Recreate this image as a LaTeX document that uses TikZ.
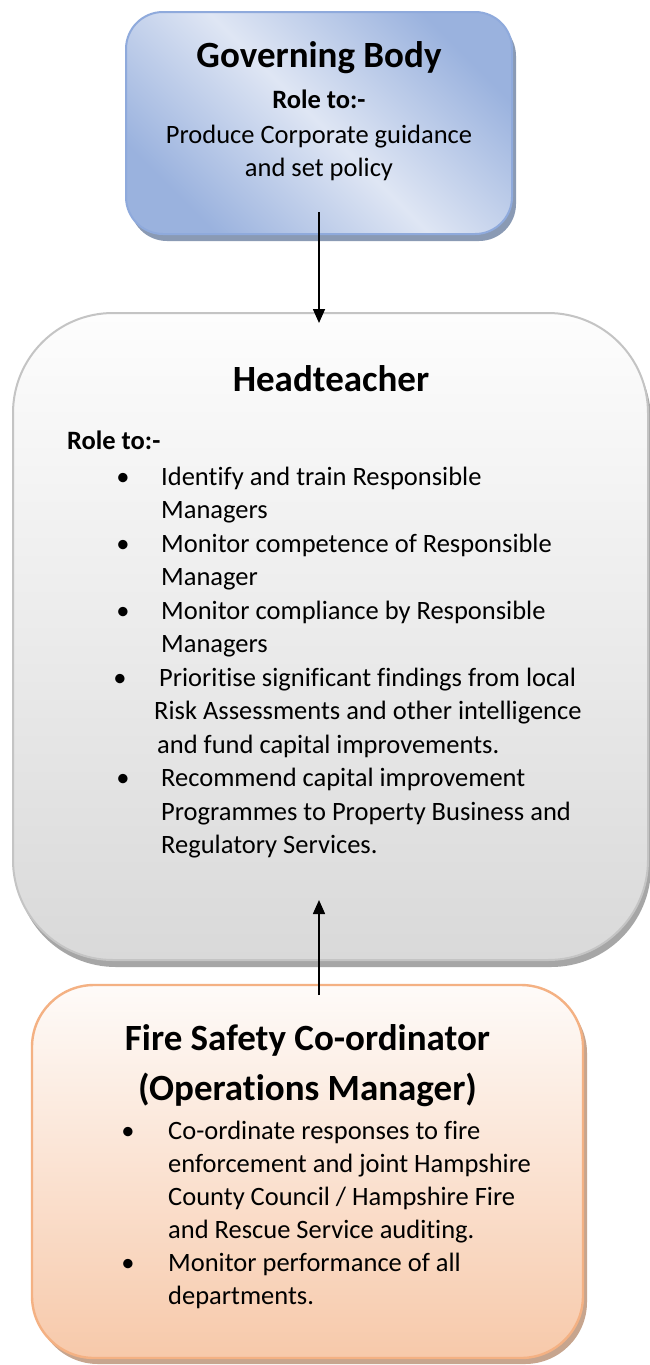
\documentclass[tikz,border=0pt]{standalone}
\usepackage{fontspec}
\setmainfont{Carlito}[Ligatures=NoCommon]
\usetikzlibrary{arrows.meta,shadows}
\definecolor{gbdark}{HTML}{9AB2DE}
\definecolor{gblight}{HTML}{DFE6F4}
\definecolor{gbborder}{HTML}{8FAADC}
\definecolor{gbshadow}{HTML}{8A9AB4}
\definecolor{httop}{HTML}{FDFDFD}
\definecolor{htbot}{HTML}{D9D9D9}
\definecolor{htborder}{HTML}{C4C4C4}
\definecolor{htshadow}{HTML}{A6A6A6}
\definecolor{fstop}{HTML}{FEFBF9}
\definecolor{fsbot}{HTML}{F7C9AA}
\definecolor{fsborder}{HTML}{F4B183}
\definecolor{fsshadow}{HTML}{C7A58E}
\begin{document}
\begin{tikzpicture}[x=1pt,y=-1pt,
  boxbase/.style={inner sep=0pt, outer sep=0pt, line width=2pt},
  gbbox/.style={boxbase, draw=gbborder, rounded corners=37pt,
     left color=gbdark, right color=gbdark, middle color=gblight, shading angle=-45,
     general shadow={fill=gbshadow, shadow xshift=4pt, shadow yshift=-7pt, rounded corners=37pt}},
  htbox/.style={boxbase, draw=htborder, rounded corners=100pt,
     top color=httop, bottom color=htbot,
     general shadow={fill=htshadow, shadow xshift=3pt, shadow yshift=-7pt, rounded corners=100pt}},
  fsbox/.style={boxbase, draw=fsborder, line width=2.4pt, rounded corners=62pt,
     top color=fstop, bottom color=fsbot,
     general shadow={fill=fsshadow, shadow xshift=4pt, shadow yshift=-6pt, rounded corners=62pt}},
  htext/.style={font=\fontsize{37}{45}\selectfont\bfseries, inner sep=0pt, anchor=base},
  rtext/.style={font=\fontsize{26.5}{33.5}\selectfont\bfseries, inner sep=0pt},
  ctext/.style={font=\fontsize{26.5}{33.5}\selectfont, inner sep=0pt, anchor=base},
  btext/.style={font=\fontsize{26.5}{33.5}\selectfont, inner sep=0pt, anchor=base west},
  bul/.style={font=\fontsize{26.5}{33.5}\selectfont, inner sep=0pt, anchor=base},
  link/.style={-{Triangle[length=14pt,width=12pt]}, line width=1.6pt, black}
]
\path[fill=white] (0,0) rectangle (649,1365);
\useasboundingbox (0,0) rectangle (649,1365);

% boxes
\node[gbbox, minimum width=386pt, minimum height=222pt] (gb) at (319,123) {};
\node[htbox, minimum width=635pt, minimum height=647pt] (ht) at (330.5,636.5) {};
\node[fsbox, minimum width=551pt, minimum height=373pt] (fs) at (307.5,1171.5) {};

% governing body text
\node[htext] (gbt) at (319,67) {Governing Body};
\node[rtext, anchor=base] (gbr) at (319,108) {Role to:-};
\node[ctext] (gb1) at (319,143) {Produce Corporate guidance};
\node[ctext] (gb2) at (319,176) {and set policy};

% headteacher text
\node[htext] (htt) at (331,391) {Headteacher};
\node[rtext, anchor=base west] (htr) at (67,449) {Role to:-};
\node[bul] (hb1) at (123,485) {•};
\node[btext] (h1a) at (161,485) {Identify and train Responsible};
\node[btext] (h1b) at (161,518.5) {Managers};
\node[bul] (hb2) at (123,552) {•};
\node[btext] (h2a) at (161,552) {Monitor competence of Responsible};
\node[btext] (h2b) at (161,585.5) {Manager};
\node[bul] (hb3) at (123,619) {•};
\node[btext] (h3a) at (161,619) {Monitor compliance by Responsible};
\node[btext] (h3b) at (161,652.5) {Managers};
\node[bul] (hb4) at (120,686) {•};
\node[btext] (h4a) at (159,686) {Prioritise significant findings from local};
\node[btext] (h4b) at (154,719.5) {Risk Assessments and other intelligence};
\node[btext] (h4c) at (157,753) {and fund capital improvements.};
\node[bul] (hb5) at (123,786.5) {•};
\node[btext] (h5a) at (161,786.5) {Recommend capital improvement};
\node[btext] (h5b) at (161,820) {Programmes to Property Business and};
\node[btext] (h5c) at (161,853.5) {Regulatory Services.};

% fire safety text
\node[htext] (fst) at (307.5,1050) {Fire Safety Co-ordinator};
\node[htext] (fso) at (307.5,1100) {(Operations Manager)};
\node[bul] (fb1) at (128,1139) {•};
\node[btext] (f1a) at (168,1139) {Co-ordinate responses to fire};
\node[btext] (f1b) at (168,1172) {enforcement and joint Hampshire};
\node[btext] (f1c) at (168,1205) {County Council / Hampshire Fire};
\node[btext] (f1d) at (168,1238) {and Rescue Service auditing.};
\node[bul] (fb2) at (128,1271) {•};
\node[btext] (f2a) at (168,1271) {Monitor performance of all};
\node[btext] (f2b) at (168,1304) {departments.};

% connectors
\coordinate (a1s) at (319,212);
\coordinate (a1e) at (319,323);
\coordinate (a2s) at (319,995);
\coordinate (a2e) at (319,900);
\draw[link] (a1s) -- (a1e);
\draw[link] (a2s) -- (a2e);
\end{tikzpicture}
\end{document}
